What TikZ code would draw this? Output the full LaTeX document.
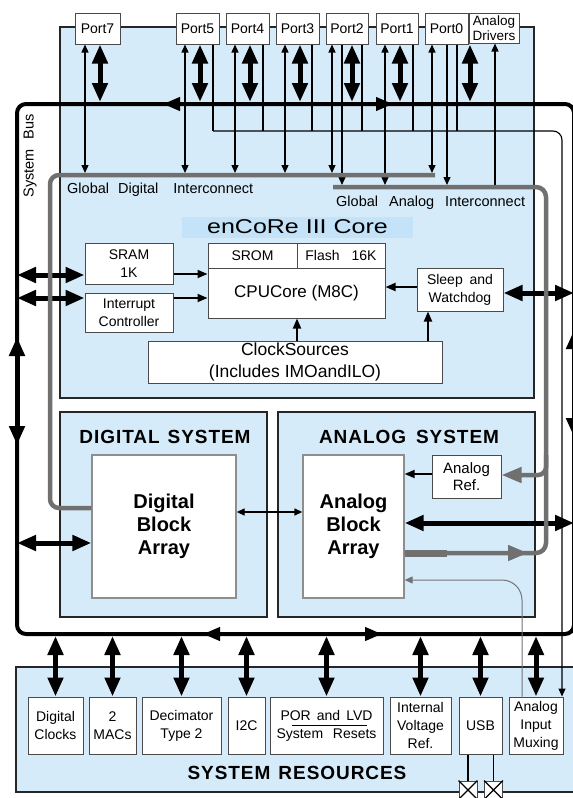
\documentclass[tikz,border=0pt]{standalone}
\usepackage{fontspec}
\setmainfont{Liberation Sans}
\usepackage{graphicx}
\usetikzlibrary{arrows.meta}
\definecolor{lblue}{HTML}{D6EBFA}
\definecolor{cblue}{HTML}{C4E3F8}
\definecolor{gbar}{HTML}{707070}
\definecolor{bord}{HTML}{4A4A4A}
\definecolor{bbord}{HTML}{8E8E8E}
\newcommand{\fsz}[2]{\fontsize{#1}{#2}\selectfont}
\begin{document}
\begin{tikzpicture}[x=1pt,y=-1pt,
  region/.style={draw=black!85, fill=lblue, line width=1.1pt, inner sep=0pt},
  box/.style={draw=bord, fill=white, line width=1pt, inner sep=0pt, align=center, font=\fsz{14}{18}},
  bigbox/.style={draw=bbord, fill=white, line width=1.3pt, inner sep=0pt, align=center, font=\fsz{20}{23}\bfseries},
  title/.style={font=\fsz{19}{19}\bfseries\addfontfeature{LetterSpace=5}, inner sep=0pt},
  lbl/.style={font=\fsz{14.5}{14.5}, inner sep=0pt},
  smA/.tip={Triangle[length=8pt,width=7pt]},
  midA/.tip={Triangle[length=10pt,width=8pt]},
  bigA/.tip={Triangle[length=19pt,width=15pt]},
  busA/.tip={Triangle[length=17pt,width=13pt]},
  gA/.tip={Triangle[length=20pt,width=15pt]},
  thinarr/.style={line width=1.3pt},
  corearr/.style={line width=1.8pt, -midA},
  dbl/.style={line width=5pt, bigA-bigA},
  bus/.style={line width=4pt},
  gline/.style={draw=gbar, line width=4.5pt},
  wire/.style={line width=1.1pt},
]
\useasboundingbox (0,0) rectangle (573,798);
\clip (0,0) rectangle (573,798);
\fill[white] (0,0) rectangle (573,798);

% regions
\node[region, minimum width=474, minimum height=371] (core) at (297,212.5) {};
\node[region, minimum width=207, minimum height=205] (dsys) at (163.5,514.5) {};
\node[region, minimum width=257, minimum height=205] (asys) at (406.5,514.5) {};
\node[region, minimum width=584, minimum height=125] (sres) at (308,729.5) {};
\node[fill=cblue, minimum width=231, minimum height=21, inner sep=0pt] (enc) at (297.5,227)
  {\scalebox{1.25}[1]{\fsz{20}{20}enCoRe III Core}};

% ports
\node[box, minimum width=45, minimum height=31] (p7) at (97.5,28.5) {Port7};
\node[box, minimum width=43, minimum height=31] (p5) at (197.5,28.5) {Port5};
\node[box, minimum width=43, minimum height=31] (p4) at (247.5,28.5) {Port4};
\node[box, minimum width=43, minimum height=31] (p3) at (297.5,28.5) {Port3};
\node[box, minimum width=42, minimum height=31] (p2) at (347,28.5) {Port2};
\node[box, minimum width=42, minimum height=31] (p1) at (397,28.5) {Port1};
\node[box, minimum width=43, minimum height=31] (p0) at (446.5,28.5) {Port0};
\node[box, minimum width=50, minimum height=30, font=\fsz{13.5}{15}] (ad) at (494,28) {Analog\\Drivers};

% core boxes
\node[box, minimum width=88, minimum height=41] (sram) at (129,263.5) {SRAM\\1K};
\node[box, minimum width=88, minimum height=39] (intc) at (129,312.5) {Interrupt\\Controller};
\node[box, minimum width=89, minimum height=25] (srom) at (252.5,255.5) {SROM};
\node[box, minimum width=88, minimum height=25] (flash) at (341,255.5) {Flash\hspace{12pt}16K};
\node[box, minimum width=177, minimum height=50, font=\fsz{17}{20}] (cpu) at (296.5,293) {CPUCore (M8C)};
\node[box, minimum width=86, minimum height=43] (sleep) at (460,289.5) {\makebox[66pt][s]{Sleep and}\\Watchdog};
\node[box, minimum width=294, minimum height=42, font=\fsz{17.5}{22}] (clk) at (295,362) {ClockSources\\(Includes IMOandILO)};

% system blocks
\node[bigbox, minimum width=144, minimum height=143] (dba) at (164,526.5) {Digital\\Block\\Array};
\node[bigbox, minimum width=101, minimum height=143] (aba) at (353.5,526.5) {Analog\\Block\\Array};
\node[box, minimum width=69, minimum height=43, font=\fsz{15}{17}] (aref) at (466.5,476.5) {Analog\\Ref.};

% system resources boxes
\node[box, minimum width=55, minimum height=57] (dclk) at (55.5,725.5) {Digital\\Clocks};
\node[box, minimum width=47, minimum height=57] (mac) at (112.5,725.5) {2\\MACs};
\node[box, minimum width=79, minimum height=57] (dec) at (181.5,725.5) {Decimator\\Type 2};
\node[box, minimum width=37, minimum height=57] (i2c) at (246.5,725.5) {I2C};
\node[box, minimum width=113, minimum height=57] (por) at (326.5,725.5) {\makebox[92pt][s]{POR and LVD}\\\makebox[100pt][s]{System Resets}};
\node[box, minimum width=61, minimum height=57] (ivr) at (420.5,725.5) {Internal\\Voltage\\Ref.};
\node[box, minimum width=43, minimum height=57] (usb) at (480.5,725.5) {USB};
\node[box, minimum width=54, minimum height=57] (aim) at (536,725.5) {Analog\\Input\\Muxing};
\node[draw=bord, fill=white, line width=1pt, minimum size=18, inner sep=0pt] (pin1) at (468,790) {};
\node[draw=bord, fill=white, line width=1pt, minimum size=18, inner sep=0pt] (pin2) at (493.5,790) {};
\draw[wire] (pin1.north west) -- (pin1.south east) (pin1.north east) -- (pin1.south west);
\draw[wire] (pin2.north west) -- (pin2.south east) (pin2.north east) -- (pin2.south west);
\draw[wire] (usb.south -| pin1.north) -- (pin1.north);
\draw[wire] (usb.south -| pin2.north) -- (pin2.north);
\draw[line width=0.8pt] (292,725) -- (367,725);

% labels
\node[lbl, anchor=west] (gdi) at (67,190) {Global\hspace{9pt}Digital\hspace{15pt}Interconnect};
\node[lbl, anchor=west] (gai) at (336,203) {Global\hspace{11pt}Analog\hspace{11pt}Interconnect};
\node[lbl, rotate=90] (sbus) at (30,156) {System\hspace{10pt}Bus};
\node[title] (dtitle) at (165,437) {DIGITAL\hspace{8pt}SYSTEM};
\node[title] (atitle) at (409,437) {ANALOG\hspace{10pt}SYSTEM};
\node[title] (rtitle) at (297,773) {SYSTEM\hspace{8pt}RESOURCES};

% system bus
\coordinate (busTL) at (17,104);
\coordinate (busBR) at (574,634);
\draw[bus, rounded corners=9pt] (busTL) rectangle (busBR);
\draw[bus, -busA] (185,104) -- (163,104);
\draw[bus, -busA] (370,104) -- (393,104);
\draw[bus, -busA] (225,634) -- (203,634);
\draw[bus, -busA] (360,634) -- (382,634);
\draw[dbl] (17,337) -- (17,445);
\draw[dbl] (574,330) -- (574,437);

% port wiring to the analog input line
\draw[wire] (p5.south -| 213,0) -- (213,131);
\draw[wire] (p4.south -| 263,0) -- (263,131);
\draw[wire] (p3.south -| 312,0) -- (312,131);
\draw[wire] (p2.south -| 362,0) -- (362,131);
\draw[wire] (p1.south -| 413,0) -- (413,131);
\draw[wire] (p0.south -| 457,0) -- (457,131);
\draw[wire, rounded corners=9pt, -smA] (213,131) -- (562,131) -- (aim.north -| 562,0);

% port thin arrows to interconnects
\draw[thinarr, smA-smA] (p7.south -| 85,0) -- (85,173);
\draw[thinarr, smA-smA] (p5.south -| 185,0) -- (185,173);
\draw[thinarr, smA-smA] (p4.south -| 235,0) -- (235,173);
\draw[thinarr, smA-smA] (p3.south -| 285,0) -- (285,173);
\draw[thinarr, smA-smA] (p2.south -| 332,0) -- (332,173);
\draw[thinarr, -smA] (p2.south -| 342,0) -- (342,185);
\draw[thinarr, smA-smA] (p1.south -| 385,0) -- (385,185);
\draw[thinarr, smA-smA] (p0.south -| 432,0) -- (432,173);
\draw[thinarr, -smA] (p0.south -| 447,0) -- (447,185);
\draw[thinarr, -smA] (495,185) -- (ad.south -| 495,0);

% port thick arrows to bus
\draw[dbl] (p7.south -| 100,0) -- (100,102);
\draw[dbl] (p5.south -| 200,0) -- (200,102);
\draw[dbl] (p4.south -| 250,0) -- (250,102);
\draw[dbl] (p3.south -| 300,0) -- (300,102);
\draw[dbl] (p2.south -| 352,0) -- (352,102);
\draw[dbl] (p1.south -| 400,0) -- (400,102);
\draw[dbl] (p0.south -| 470,0) -- (470,102);

% core arrows
\draw[corearr] (sram.east |- 0,274) -- (cpu.west |- 0,274);
\draw[corearr] (intc.east |- 0,298) -- (cpu.west |- 0,298);
\draw[corearr] (sleep.west |- 0,287) -- (cpu.east |- 0,287);
\draw[corearr] (clk.north -| 297,0) -- (cpu.south -| 297,0);
\draw[corearr] (clk.north -| 428,0) -- (sleep.south -| 428,0);
\draw[dbl] (17,275) -- (sram.west |- 0,275);
\draw[dbl] (17,298) -- (intc.west |- 0,298);
\draw[dbl] (sleep.east |- 0,293) -- (574,293);

% system arrows
\draw[dbl] (17,543) -- (dba.west |- 0,543);
\draw[thinarr, smA-smA] (dba.east |- 0,512) -- (aba.west |- 0,512);
\draw[corearr] (aref.west |- 0,474) -- (aba.east |- 0,474);
\draw[dbl] (aba.east |- 0,523) -- (574,523);
\draw[draw=black!55, line width=1pt, rounded corners=20pt, -smA] (aim.north -| 522,0) -- (522,580) -- (aba.east |- 0,580);

% gray interconnects
\draw[gline, rounded corners=9pt] (dba.west |- 0,508) -- (50,508) -- (50,175) -- (435,175);
\draw[gline, rounded corners=10pt] (333,187) -- (546,187) -- (546,553) -- (aba.east |- 0,553);
\draw[draw=gbar, line width=7pt] (aba.east |- 0,553) -- (447,553);
\draw[gline, -gA] (500,553) -- (528,553);
\draw[gline, rounded corners=8pt, -gA] (546,455) |- (aref.east |- 0,475);

% bottom bus to system resources
\draw[dbl] (dclk.north |- busBR) ++(0,2) -- (dclk.north);
\draw[dbl] (mac.north |- busBR) ++(0,2) -- (mac.north);
\draw[dbl] (dec.north |- busBR) ++(0,2) -- (dec.north);
\draw[dbl] (i2c.north |- busBR) ++(0,2) -- (i2c.north);
\draw[dbl] (por.north |- busBR) ++(0,2) -- (por.north);
\draw[dbl] (ivr.north |- busBR) ++(0,2) -- (ivr.north);
\draw[dbl] (usb.north |- busBR) ++(0,2) -- (usb.north);
\draw[dbl] (aim.north |- busBR) ++(0,2) -- (aim.north);
\end{tikzpicture}
\end{document}
